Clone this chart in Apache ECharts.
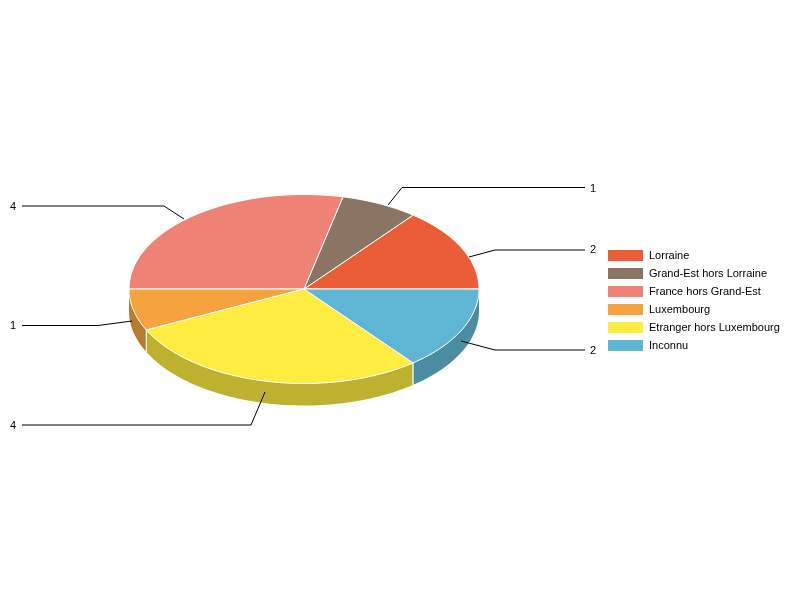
<!DOCTYPE html>
<html><head><meta charset="utf-8">
<style>html,body{margin:0;padding:0;background:#fff}#c{width:800px;height:600px}</style>
<script src="https://cdn.jsdelivr.net/npm/echarts@6/dist/echarts.min.js"></script>
</head><body><div id="c"></div>
<script>
const categories = ['Lorraine','Grand-Est hors Lorraine','France hors Grand-Est','Luxembourg','Etranger hors Luxembourg','Inconnu'];
const values = [2,1,4,1,4,2];
const colors = ['#EB5D36','#8A7565','#EE8375','#F6A23F','#FFEC40','#5EB6D4'];
const sideColors = ['#B04628','#67584C','#B26258','#B87A2F','#BFB130','#4A8DA3'];

// Pie geometry (pixels)
const CX = 304, CY = 289, RX = 175, RY = 94.5, DEPTH = 22;
// Leader-line layout, per category: start, elbow, end of line, label x
const leaders = [
  {p:[[469,257],[495,250],[585,250]], lx:593, ly:250},
  {p:[[388,205],[402,187.5],[585,187.5]], lx:593, ly:189},
  {p:[[184,219],[164,206],[22,206]], lx:13, ly:207},
  {p:[[132,321],[98,325.5],[22,325.5]], lx:13, ly:326},
  {p:[[265,392],[251,425],[22,425]], lx:13, ly:426},
  {p:[[461,341],[495,350],[585,350]], lx:593, ly:351}
];
const total = values.reduce((a,b)=>a+b,0);
const pt = (deg,dy) => {const r=deg*Math.PI/180; return [CX+RX*Math.cos(r), CY-RY*Math.sin(r)+(dy||0)];};
const arc = (a,b,dy) => {const n=Math.max(2,Math.ceil(Math.abs(b-a)/1.5)); const o=[]; for(let i=0;i<=n;i++) o.push(pt(a+(b-a)*i/n,dy)); return o;};

function renderSlice(idx){
  let sum=0; for(let i=0;i<idx;i++) sum+=values[i];
  const a0=sum/total*360, a1=(sum+values[idx])/total*360;
  const kids=[];
  // Visible outer wall: only the part in the lower half of the ellipse
  const s0=Math.max(a0,180), s1=Math.min(a1,360);
  if(s1>s0){
    kids.push({type:'polygon',shape:{points:arc(s0,s1,0).concat(arc(s1,s0,DEPTH))},style:{fill:sideColors[idx],stroke:null}});
    [a0,a1].forEach(a=>{ if(a>180&&a<360){ kids.push({type:'line',shape:{x1:pt(a)[0],y1:pt(a)[1],x2:pt(a)[0],y2:pt(a)[1]+DEPTH},style:{stroke:'#fff',lineWidth:1}}); }});
  }
  kids.push({type:'polygon',shape:{points:[[CX,CY]].concat(arc(a0,a1,0))},style:{fill:colors[idx],stroke:'#fff',lineWidth:1,lineJoin:'round'}});
  const L=leaders[idx];
  kids.push({type:'polyline',shape:{points:L.p},style:{fill:null,stroke:'#000',lineWidth:1}});
  kids.push({type:'text',style:{x:L.lx,y:L.ly,text:String(values[idx]),fill:'#000',font:'11px "Liberation Sans", Arial, sans-serif',textAlign:'center',textVerticalAlign:'middle'}});
  return {type:'group',children:kids};
}

const chart = echarts.init(document.getElementById('c'),null,{renderer:'canvas'});
chart.setOption({
  animation:false,
  backgroundColor:'#fff',
  legend:{
    orient:'vertical',left:608,top:250,
    itemWidth:35,itemHeight:11,itemGap:7,padding:0,
    icon:'rect',selectedMode:false,
    data:categories,
    textStyle:{color:'#000',fontSize:11,fontFamily:'"Liberation Sans", Arial, sans-serif',padding:[0,0,0,1]}
  },
  series:categories.map((name,i)=>({
    type:'custom',name,coordinateSystem:'none',silent:true,
    itemStyle:{color:colors[i]},
    data:[values[i]],
    renderItem:()=>renderSlice(i)
  }))
});
</script></body></html>
